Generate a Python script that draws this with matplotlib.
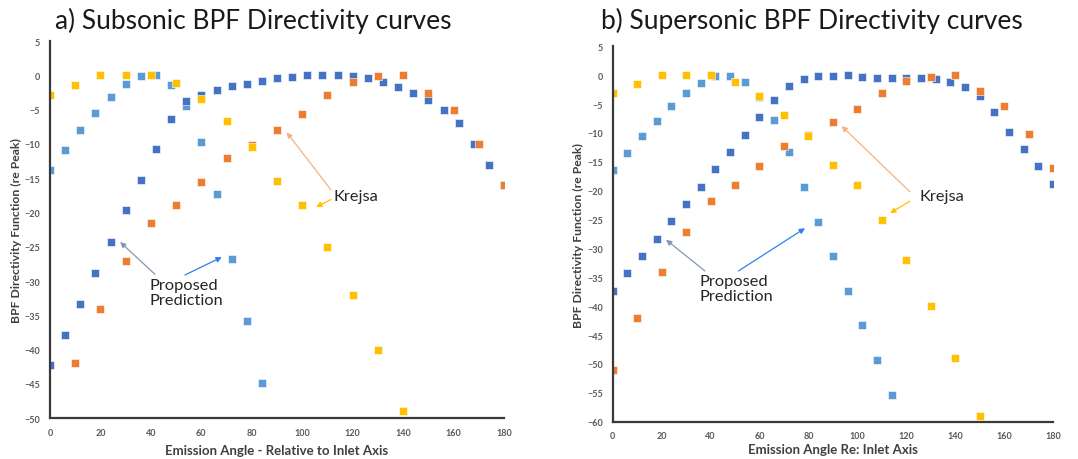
import matplotlib.pyplot as plt

plt.rcParams['font.family'] = ['Lato', 'DejaVu Sans']

# Emission angles (deg)
ang_pred = [0, 6, 12, 18, 24, 30, 36, 42, 48, 54, 60, 66, 72, 78, 84, 90,
            96, 102, 108, 114, 120, 126, 132, 138, 144, 150, 156, 162, 168, 174, 180]
ang_krejsa = [0, 10, 20, 30, 40, 50, 60, 70, 80, 90, 100, 110, 120, 130, 140,
              150, 160, 170, 180]

# a) Subsonic
sub_pred_dark = [-42.3, -37.8, -33.3, -28.8, -24.3, -19.7, -15.3, -10.7, -6.3, -3.75,
                 -2.9, -2.2, -1.6, -1.2, -0.8, -0.4, -0.2, 0.0, 0.0, 0.0,
                 -0.1, -0.45, -1.0, -1.65, -2.6, -3.65, -5.0, -7.0, -10.0, -13.0, -16.0]
sub_pred_light_ang = [0, 6, 12, 18, 24, 30, 36, 42, 48, 54, 60, 66, 72, 78, 84]
sub_pred_light = [-13.8, -10.85, -8.0, -5.5, -3.2, -1.2, -0.05, 0.0, -1.4, -4.5,
                  -9.7, -17.3, -26.8, -35.8, -44.8]
sub_krejsa_orange_ang = [10, 20, 30, 40, 50, 60, 70, 80, 90, 100, 110, 120, 130,
                         140, 150, 160, 170, 180]
sub_krejsa_orange = [-42.0, -34.0, -27.0, -21.5, -18.9, -15.6, -12.1, -10.2, -8.0,
                     -5.6, -2.9, -0.9, -0.1, 0.0, -2.5, -5.1, -10.0, -16.0]
sub_krejsa_yellow_ang = [0, 10, 20, 30, 40, 50, 60, 70, 80, 90, 100, 110, 120, 130, 140]
sub_krejsa_yellow = [-2.9, -1.4, 0.0, 0.0, 0.0, -1.1, -3.4, -6.7, -10.4, -15.45,
                     -18.95, -25.0, -32.0, -40.0, -49.0]

# b) Supersonic
sup_pred_dark = [-37.3, -34.3, -31.3, -28.3, -25.3, -22.3, -19.3, -16.3, -13.3, -10.35,
                 -7.3, -4.35, -1.85, -0.65, -0.2, -0.07, 0.0, -0.3, -0.5, -0.5,
                 -0.5, -0.5, -0.7, -1.1, -2.0, -3.6, -6.3, -9.8, -12.8, -15.8, -18.8]
sup_pred_light_ang = [0, 6, 12, 18, 24, 30, 36, 42, 48, 54, 60, 66, 72, 78, 84, 90,
                      96, 102, 108, 114]
sup_pred_light = [-16.4, -13.4, -10.6, -7.9, -5.3, -3.0, -1.3, -0.2, -0.1, -1.2,
                  -3.8, -7.7, -13.3, -19.3, -25.4, -31.3, -37.3, -43.3, -49.3, -55.3]
sup_krejsa_orange = [-51.0, -42.0, -34.0, -27.1, -21.7, -19.0, -15.8, -12.2, -10.4,
                     -8.15, -5.8, -3.0, -1.05, -0.3, 0.0, -2.7, -5.3, -10.1, -16.0]
sup_krejsa_yellow_ang = [0, 10, 20, 30, 40, 50, 60, 70, 80, 90, 100, 110, 120, 130,
                         140, 150]
sup_krejsa_yellow = [-3.1, -1.5, 0.0, 0.0, 0.0, -1.2, -3.6, -6.9, -10.6, -15.5,
                     -19.0, -25.0, -32.0, -40.0, -49.0, -59.0]

C_DARK = '#4472C4'
C_LIGHT = '#5B9BD5'
C_ORANGE = '#ED7D31'
C_YELLOW = '#FFC000'
TXT = '#404040'

fig = plt.figure(figsize=(10.78, 4.6), dpi=100)
ax1 = fig.add_axes([0.0464, 0.0885, 0.4212, 0.820])
ax2 = fig.add_axes([0.5684, 0.0811, 0.4084, 0.816])


def scatter(ax, x, y, c):
    ax.plot(x, y, ls='none', marker='s', ms=5.2, color=c, mec='white', mew=0.4)


def style(ax, ymin, xlabel, xpad):
    ax.set_xlim(0, 180)
    ax.set_ylim(ymin, 5)
    ax.set_xticks(range(0, 181, 20))
    ax.set_yticks(range(ymin, 6, 5))
    for s in ['top', 'right']:
        ax.spines[s].set_visible(False)
    for s in ['left', 'bottom']:
        ax.spines[s].set_color('#3a3a3a')
        ax.spines[s].set_linewidth(1.6)
    ax.tick_params(length=0, pad=7, labelsize=6.5, labelcolor='#595959')
    for lab in ax.get_xticklabels() + ax.get_yticklabels():
        lab.set_fontweight('bold')
    ax.set_xlabel(xlabel, fontsize=9.5, fontweight='bold', color=TXT, labelpad=xpad)
    ax.set_ylabel('BPF Directivity Function (re Peak)', fontsize=8.8,
                  fontweight='bold', color=TXT, labelpad=2)


def arrow(ax, tail, head, c, lw=0.9):
    ax.annotate('', xy=head, xytext=tail,
                arrowprops=dict(arrowstyle='-|>', color=c, lw=lw,
                                mutation_scale=8, shrinkA=0, shrinkB=0))


# a) Subsonic
scatter(ax1, sub_pred_light_ang, sub_pred_light, C_LIGHT)
scatter(ax1, ang_pred, sub_pred_dark, C_DARK)
scatter(ax1, sub_krejsa_orange_ang, sub_krejsa_orange, C_ORANGE)
scatter(ax1, sub_krejsa_yellow_ang, sub_krejsa_yellow, C_YELLOW)
style(ax1, -50, 'Emission Angle - Relative to Inlet Axis', 5)
ax1.text(112.5, -17.6, 'Krejsa', fontsize=11.8, color='#262626', va='center')
arrow(ax1, (111.4, -16.7), (93.8, -8.3), '#F4B183')
arrow(ax1, (111.4, -18.1), (105.5, -19.2), C_YELLOW)
ax1.text(39.6, -29.6, 'Proposed\nPrediction', fontsize=11.8, color='#262626',
         va='top', linespacing=1.1)
arrow(ax1, (41.6, -29.0), (27.8, -24.3), '#8497B0')
arrow(ax1, (53.5, -29.1), (68.1, -26.5), '#2F80ED')

# b) Supersonic
scatter(ax2, sup_pred_light_ang, sup_pred_light, C_LIGHT)
scatter(ax2, ang_pred, sup_pred_dark, C_DARK)
scatter(ax2, ang_krejsa, sup_krejsa_orange, C_ORANGE)
scatter(ax2, sup_krejsa_yellow_ang, sup_krejsa_yellow, C_YELLOW)
style(ax2, -60, 'Emission Angle Re: Inlet Axis', 2)
ax2.text(125.5, -20.9, 'Krejsa', fontsize=11.8, color='#262626', va='center')
arrow(ax2, (121.5, -20.2), (93.6, -8.8), '#F4B183')
arrow(ax2, (121.5, -21.8), (113.4, -23.9), C_YELLOW)
ax2.text(35.4, -34.4, 'Proposed\nPrediction', fontsize=11.8, color='#262626',
         va='top', linespacing=1.1)
arrow(ax2, (37.7, -33.9), (21.8, -28.5), '#8497B0')
arrow(ax2, (51.4, -33.9), (78.6, -26.5), '#2F80ED')

fig.text(0.2347, 0.955, 'a) Subsonic BPF Directivity curves', fontsize=19,
         ha='center', va='center', color='#1a1a1a')
fig.text(0.753, 0.955, 'b) Supersonic BPF Directivity curves', fontsize=19,
         ha='center', va='center', color='#1a1a1a')

fig.savefig('out.png', dpi=100, facecolor='white')
